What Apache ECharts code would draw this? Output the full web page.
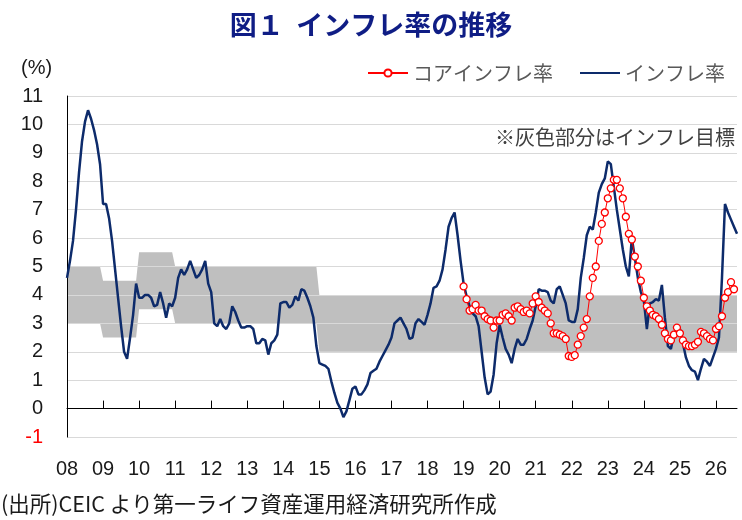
<!DOCTYPE html>
<html><head><meta charset="utf-8">
<script src="https://cdn.jsdelivr.net/npm/echarts@6/dist/echarts.min.js"></script>
<style>html,body{margin:0;padding:0;background:#fff}#c{width:742px;height:520px}</style>
</head><body><div id="c"></div>
<script>
// ---- data ----
const firstYear = 2008;
const monthCount = 224; // Jan 2008 .. Aug 2026
const yearLabels = ['08','09','10','11','12','13','14','15','16','17','18','19','20','21','22','23','24','25','26'];
// headline inflation, monthly from Jan 2008
const headline = [
  4.6, 5.2, 5.9, 7.0, 8.3, 9.4, 10.1, 10.5, 10.2, 9.8, 9.3, 8.6,
  7.2, 7.2, 6.7, 5.9, 4.9, 3.9, 2.9, 2.0, 1.75, 2.5, 3.3, 4.4,
  3.9, 3.9, 4.0, 4.0, 3.9, 3.6, 3.65, 4.1, 3.7, 3.2, 3.7, 3.6,
  3.9, 4.6, 4.9, 4.7, 4.9, 5.2, 4.9, 4.6, 4.7, 4.9, 5.2, 4.4,
  4.1, 3.0, 2.9, 3.15, 2.9, 2.8, 3.0, 3.6, 3.4, 3.1, 2.85, 2.85,
  2.9, 2.9, 2.8, 2.3, 2.3, 2.45, 2.4, 1.9, 2.3, 2.4, 2.6, 3.7,
  3.75, 3.75, 3.55, 3.65, 3.95, 3.8, 4.2, 4.15, 3.9, 3.6, 3.2, 2.2,
  1.6, 1.55, 1.5, 1.4, 0.95, 0.55, 0.2, 0.0, -0.3, -0.1, 0.3, 0.7,
  0.78, 0.5, 0.5, 0.65, 0.85, 1.25, 1.33, 1.4, 1.65, 1.85, 2.05, 2.25,
  2.5, 3.0, 3.1, 3.2, 3.0, 2.8, 2.45, 2.5, 3.0, 3.15, 3.05, 2.95,
  3.3, 3.7, 4.25, 4.3, 4.5, 4.9, 5.6, 6.4, 6.7, 6.9, 6.1, 5.2,
  4.4, 3.95, 3.6, 3.35, 3.25, 2.9, 2.0, 1.1, 0.5, 0.6, 1.2, 2.3,
  2.95, 2.5, 2.1, 1.9, 1.6, 2.1, 2.45, 2.25, 2.25, 2.45, 2.8, 3.1,
  3.6, 4.2, 4.15, 4.15, 4.1, 3.8, 3.7, 4.2, 4.3, 4.0, 3.7, 3.1,
  3.05, 3.05, 3.5, 4.6, 5.3, 6.1, 6.4, 6.3, 6.9, 7.6, 7.9, 8.1,
  8.7, 8.6, 7.8, 7.0, 6.3, 5.6, 5.0, 4.65, 6.0, 5.3, 4.6, 4.1,
  3.8, 2.8, 3.7, 3.75, 3.85, 3.8, 4.35, 3.2, 2.2, 2.1, 2.6, 2.85,
  2.8, 2.3, 1.8, 1.5, 1.35, 1.3, 1.0, 1.4, 1.75, 1.65, 1.5, 1.8,
  2.1, 2.5, 4.6, 7.2, 6.9, 6.65, 6.4, 6.15
];
// core inflation, monthly from Jan 2019
const coreFirstMonth = '2019-01';
const core = [
  4.3, 3.85, 3.45, 3.5, 3.65, 3.45, 3.45, 3.25, 3.15, 3.1, 2.85, 3.1,
  3.1, 3.3, 3.35, 3.25, 3.1, 3.55, 3.6, 3.5, 3.4, 3.45, 3.35, 3.7,
  3.95, 3.75, 3.55, 3.45, 3.35, 3.0, 2.65, 2.65, 2.6, 2.55, 2.45, 1.85,
  1.82, 1.88, 2.25, 2.55, 2.85, 3.15, 3.95, 4.6, 5.0, 5.9, 6.5, 6.9,
  7.4, 7.75, 8.05, 8.05, 7.75, 7.4, 6.75, 6.15, 5.95, 5.35, 5.0, 4.5,
  3.9, 3.6, 3.45, 3.3, 3.25, 3.15, 2.95, 2.65, 2.45, 2.4, 2.6, 2.85,
  2.65, 2.4, 2.25, 2.2, 2.2, 2.25, 2.35, 2.7, 2.65, 2.55, 2.45, 2.4,
  2.8, 2.9, 3.25, 3.9, 4.1, 4.45, 4.2
];
// inflation target band per year
const targetYears = [2008,2009,2010,2011,2012,2013,2014,2015,2016,2017,2018,2019,2020,2021,2022,2023,2024,2025,2026];
const targetLow   = [3, 2.5, 3.5, 3, 3, 3, 3, 2, 2, 2, 2, 2, 2, 2, 2, 2, 2, 2, 2];
const targetHigh  = [5, 4.5, 5.5, 5, 5, 5, 5, 4, 4, 4, 4, 4, 4, 4, 4, 4, 4, 4, 4];
const yTicks = [-1,0,1,2,3,4,5,6,7,8,9,10,11];

// ---- build ----
const months = [];
for (let y = firstYear; months.length < monthCount; y++) {
  for (let m = 1; m <= 12 && months.length < monthCount; m++) {
    months.push(y + '-' + (m < 10 ? '0' + m : '' + m));
  }
}
const coreStart = months.indexOf(coreFirstMonth);
const coreSeries = months.map((_, i) => (i >= coreStart && i - coreStart < core.length) ? core[i - coreStart] : null);
const bandLow = months.map(mo => targetLow[targetYears.indexOf(+mo.slice(0, 4))]);
const bandWidth = months.map(mo => {
  const k = targetYears.indexOf(+mo.slice(0, 4));
  return targetHigh[k] - targetLow[k];
});
const isYearStart = (idx) => idx % 12 === 0;

const JP = '"Noto Sans CJK JP", sans-serif';
const NUM = '"Liberation Sans", Arial, sans-serif';

const chart = echarts.init(document.getElementById('c'), null, { renderer: 'canvas' });
chart.setOption({
  animation: false,
  backgroundColor: '#fff',
  title: {
    text: '図１  インフレ率の推移',
    left: 'center', top: 6,
    textStyle: { fontFamily: JP, fontSize: 27, fontWeight: 'bold', color: '#0f1d85' }
  },
  legend: {
    data: [
      { name: 'コアインフレ率' },
      { name: 'インフレ率', itemStyle: { opacity: 0 } }
    ],
    right: 12, top: 58,
    itemWidth: 40, itemHeight: 9, itemGap: 26,
    textStyle: { fontFamily: JP, fontSize: 20, color: '#595959' }
  },
  graphic: [
    { type: 'text', left: 21, top: 58, style: { text: '(%)', font: '20px ' + NUM, fill: '#1a1a1a' } },
    { type: 'text', right: 7, top: 127, style: { text: '※灰色部分はインフレ目標', font: '20px ' + JP, fill: '#404040' } },
    { type: 'text', left: 1, top: 493, style: { text: '(出所)CEIC より第一ライフ資産運用経済研究所作成', font: '21.5px ' + JP, fill: '#1a1a1a' } }
  ],
  grid: { left: 67, right: 5, top: 96, bottom: 83, containLabel: false, outerBoundsMode: 'none' },
  xAxis: [
    {
      type: 'category', data: months, boundaryGap: false, position: 'bottom',
      axisLine: { show: false, onZero: false },
      axisTick: { show: false },
      splitLine: { show: false },
      axisLabel: {
        interval: (idx) => isYearStart(idx),
        formatter: (v) => yearLabels[months.indexOf(v) / 12] || '',
        fontFamily: NUM, fontSize: 20, color: '#1a1a1a', margin: 22
      }
    },
    {
      type: 'category', data: months, boundaryGap: false, position: 'bottom', z: 3,
      axisLine: { show: true, onZero: true, lineStyle: { color: '#000', width: 1 } },
      axisTick: { show: true, inside: true, length: 8, interval: (idx) => isYearStart(idx) && idx > 0, lineStyle: { color: '#000', width: 1 } },
      axisLabel: { show: false },
      splitLine: { show: false }
    }
  ],
  yAxis: {
    type: 'value', min: yTicks[0], max: yTicks[yTicks.length - 1], interval: 1, z: 2,
    axisLine: { show: true, onZero: false, lineStyle: { color: '#000', width: 1 } },
    axisTick: { show: false },
    splitLine: { show: true, lineStyle: { color: '#d9d9d9', width: 1 } },
    axisLabel: {
      fontFamily: NUM, fontSize: 20, margin: 24,
      color: (v) => (+v < 0 ? '#ff0000' : '#1a1a1a')
    }
  },
  series: [
    {
      name: 'band-low', type: 'line', stack: 'band', data: bandLow, z: 1,
      symbol: 'none', silent: true, lineStyle: { opacity: 0 }
    },
    {
      name: 'band', type: 'line', stack: 'band', data: bandWidth, z: 1,
      symbol: 'none', silent: true, lineStyle: { opacity: 0 },
      areaStyle: { color: '#bfbfbf', opacity: 1 }
    },
    {
      name: 'インフレ率', type: 'line', data: headline, z: 4,
      symbol: 'none', lineStyle: { color: '#0d2b6b', width: 2.5 },
      itemStyle: { color: '#0d2b6b' }
    },
    {
      name: 'コアインフレ率', type: 'line', data: coreSeries, z: 5,
      symbol: 'circle', symbolSize: 7, showAllSymbol: true,
      lineStyle: { color: '#ff0000', width: 1 },
      itemStyle: { color: '#ffffff', borderColor: '#ff0000', borderWidth: 1.3 }
    }
  ]
});
</script>
</body></html>
